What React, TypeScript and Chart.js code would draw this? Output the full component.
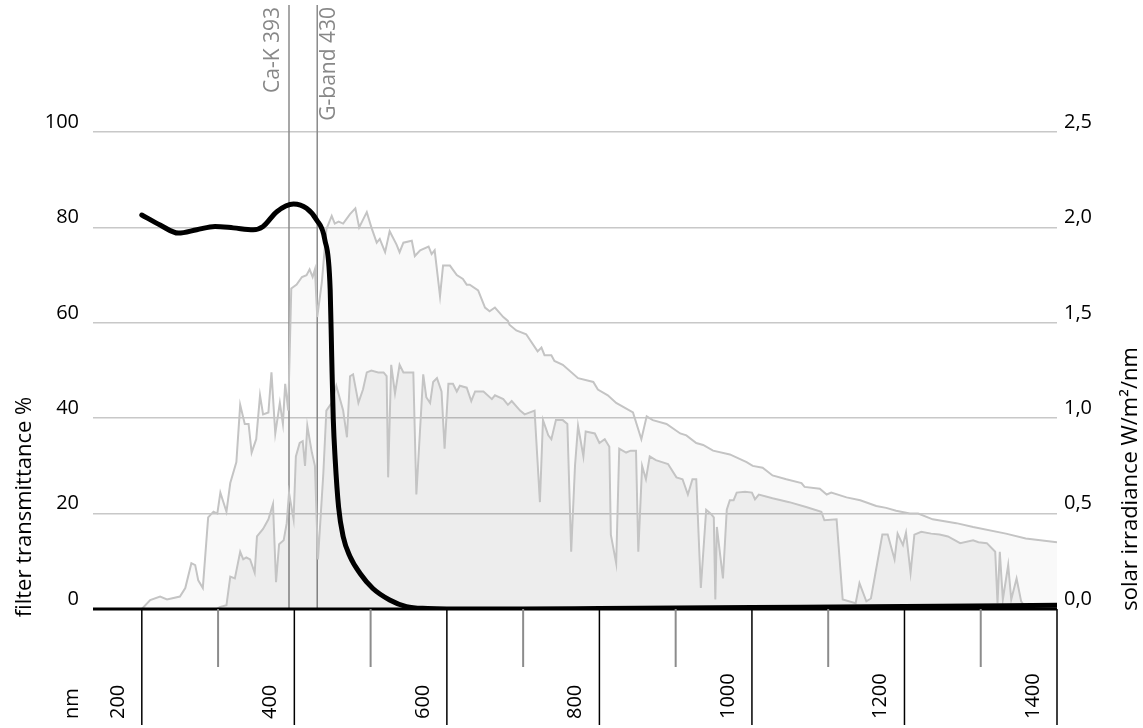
import React, { useEffect, useRef } from "react";
import { Chart, registerables } from "chart.js";

Chart.register(...registerables);

const FONT = '"Open Sans", "DejaVu Sans", sans-serif';

// ---- Filter transmittance (%), left axis ----
const filterNm = [200, 224, 248, 272, 296, 320, 346, 359, 377, 399, 416, 429, 440, 447, 449, 451, 453.5, 458, 464, 473, 486, 503, 525, 547, 575, 600, 700, 800, 1000, 1200, 1400];
const filterPct = [82.6, 80.5, 78.8, 79.5, 80.2, 79.9, 79.5, 80.2, 83.3, 84.9, 84.0, 81.6, 77.4, 66.9, 52.9, 40.0, 31.5, 21.4, 15.2, 11.0, 7.5, 4.3, 1.9, 0.5, 0.1, 0.0, 0.0, 0.1, 0.3, 0.5, 0.8];

// ---- Extraterrestrial solar irradiance (W/m²/nm), right axis ----
const etrNm = [200, 211, 224, 233, 250, 257, 265, 270, 274, 280, 287, 294, 299, 303, 311, 316, 324, 329, 335, 340, 344, 350, 355, 359, 366, 370, 375, 381, 385, 388, 392, 396, 403, 410, 416, 420, 424, 427, 430, 436, 442, 449, 453, 458, 464, 473, 480, 485, 495, 501, 508, 512, 519, 525, 534, 538, 543, 554, 558, 565, 576, 580, 584, 591, 595, 604, 613, 621, 626, 630, 641, 650, 656, 663, 674, 680, 682, 691, 704, 719, 724, 728, 737, 741, 752, 772, 792, 798, 811, 822, 844, 855, 862, 870, 888, 906, 914, 927, 936, 949, 971, 993, 1001, 1014, 1027, 1045, 1065, 1069, 1089, 1098, 1104, 1124, 1142, 1163, 1176, 1189, 1207, 1218, 1237, 1268, 1290, 1333, 1359, 1400];
const etrVal = [0.0, 0.047, 0.065, 0.05, 0.065, 0.11, 0.24, 0.23, 0.15, 0.11, 0.48, 0.51, 0.5, 0.61, 0.51, 0.66, 0.77, 1.07, 0.97, 0.97, 0.82, 0.89, 1.12, 1.02, 1.03, 1.24, 0.92, 1.08, 0.97, 1.18, 1.04, 1.68, 1.7, 1.74, 1.75, 1.78, 1.74, 1.78, 1.53, 1.71, 1.99, 2.06, 2.02, 2.03, 2.02, 2.07, 2.1, 2.0, 2.08, 2.0, 1.92, 1.94, 1.87, 1.98, 1.91, 1.87, 1.92, 1.93, 1.85, 1.88, 1.9, 1.86, 1.88, 1.64, 1.8, 1.8, 1.75, 1.73, 1.7, 1.7, 1.67, 1.58, 1.56, 1.58, 1.53, 1.51, 1.49, 1.46, 1.44, 1.35, 1.37, 1.33, 1.33, 1.3, 1.28, 1.21, 1.19, 1.15, 1.12, 1.08, 1.03, 0.89, 1.01, 0.99, 0.97, 0.92, 0.91, 0.87, 0.86, 0.83, 0.81, 0.77, 0.75, 0.74, 0.7, 0.68, 0.66, 0.64, 0.63, 0.6, 0.61, 0.585, 0.57, 0.54, 0.53, 0.515, 0.5, 0.5, 0.47, 0.45, 0.43, 0.395, 0.37, 0.35];

// ---- Ground-level solar irradiance (W/m²/nm), right axis ----
const groundNm = [298, 302, 311, 316, 322, 329, 333, 337, 342, 348, 351, 359, 366, 372, 376, 380, 386, 390, 393, 399, 402, 407, 411, 414, 417, 423, 427, 431, 438, 442, 449, 455, 464, 469, 473, 477, 484, 490, 495, 501, 510, 517, 521, 523, 527, 532, 538, 543, 556, 560, 569, 573, 578, 582, 587, 593, 597, 602, 608, 613, 617, 626, 632, 637, 648, 659, 663, 674, 680, 685, 696, 702, 715, 722, 726, 733, 737, 743, 752, 758, 763, 768, 772, 779, 782, 794, 800, 807, 813, 815, 822, 826, 835, 841, 848, 851, 856, 861, 866, 874, 890, 901, 909, 916, 922, 927, 933, 940, 946, 950, 952, 954, 962, 967, 971, 976, 980, 991, 1000, 1004, 1009, 1027, 1049, 1071, 1091, 1095, 1111, 1119, 1136, 1141, 1150, 1156, 1171, 1178, 1187, 1191, 1198, 1202, 1208, 1213, 1222, 1235, 1246, 1257, 1273, 1290, 1297, 1308, 1319, 1322, 1325, 1329, 1336, 1340, 1347, 1353, 1360];
const groundVal = [0.0, 0.01, 0.02, 0.17, 0.16, 0.3, 0.26, 0.27, 0.26, 0.19, 0.38, 0.42, 0.47, 0.55, 0.14, 0.34, 0.36, 0.45, 0.61, 0.47, 0.8, 0.87, 0.88, 0.75, 0.96, 0.82, 0.75, 0.26, 0.71, 1.04, 1.08, 1.17, 1.04, 0.9, 1.22, 1.23, 1.08, 1.15, 1.24, 1.25, 1.24, 1.24, 1.22, 0.69, 1.28, 1.13, 1.28, 1.24, 1.24, 0.6, 1.23, 1.11, 1.08, 1.19, 1.21, 1.14, 0.84, 1.18, 1.18, 1.14, 1.17, 1.16, 1.09, 1.14, 1.14, 1.1, 1.12, 1.1, 1.07, 1.09, 1.04, 1.02, 1.04, 0.56, 0.99, 0.91, 0.89, 0.99, 0.99, 0.97, 0.3, 0.75, 0.96, 0.8, 0.93, 0.92, 0.87, 0.89, 0.85, 0.39, 0.24, 0.84, 0.82, 0.83, 0.83, 0.3, 0.75, 0.68, 0.8, 0.78, 0.76, 0.69, 0.68, 0.6, 0.68, 0.68, 0.11, 0.52, 0.5, 0.48, 0.05, 0.43, 0.16, 0.52, 0.57, 0.57, 0.61, 0.615, 0.61, 0.575, 0.6, 0.58, 0.56, 0.535, 0.51, 0.465, 0.47, 0.05, 0.03, 0.135, 0.04, 0.055, 0.39, 0.39, 0.26, 0.395, 0.335, 0.4, 0.19, 0.39, 0.405, 0.395, 0.39, 0.38, 0.345, 0.36, 0.35, 0.345, 0.3, 0.03, 0.3, 0.05, 0.23, 0.05, 0.16, 0.04, 0.0];

// ---- Axes / labels ----
const xMin = 136;
const xMax = 1400;
const leftTicks = [0, 20, 40, 60, 80, 100];
const rightTicks = [0, 0.5, 1.0, 1.5, 2.0, 2.5];
const majorTickNm = [200, 400, 600, 800, 1000, 1200, 1400];
const minorTickNm = [300, 500, 700, 900, 1100, 1300];
const unitLabel = "nm";
const markerNm = [393, 430];
const markerLabels = ["Ca-K 393", "G-band 430"];
const leftTitle = "filter transmittance %";
const rightTitle = "solar irradiance W/m\u00B2/nm";

const toPoints = (xs: number[], ys: number[]) => xs.map((x, i) => ({ x, y: ys[i] }));

const overlayPlugin = {
  id: "overlay",
  beforeDatasetsDraw(chart: any) {
    const { ctx, chartArea, scales } = chart;
    const xs = scales.x;
    const y0 = chartArea.bottom;
    ctx.save();
    ctx.strokeStyle = "#8a8a8a";
    ctx.lineWidth = 1.5;
    markerNm.forEach((nm, i) => {
      const x = xs.getPixelForValue(nm);
      ctx.beginPath();
      ctx.moveTo(x, 5);
      ctx.lineTo(x, y0);
      ctx.stroke();
      ctx.save();
      ctx.translate(x + (i === 0 ? -16 : 12), 7);
      ctx.rotate(-Math.PI / 2);
      ctx.fillStyle = "#888888";
      ctx.font = `21px ${FONT}`;
      ctx.textAlign = "right";
      ctx.textBaseline = "middle";
      ctx.fillText(markerLabels[i], 0, 0);
      ctx.restore();
    });
    ctx.restore();
  },
  afterDraw(chart: any) {
    const { ctx, chartArea, scales } = chart;
    const xs = scales.x;
    const y0 = chartArea.bottom;
    ctx.save();
    ctx.strokeStyle = "#000";
    ctx.lineWidth = 3;
    ctx.beginPath();
    ctx.moveTo(chartArea.left, y0);
    ctx.lineTo(chartArea.right, y0);
    ctx.stroke();
    ctx.strokeStyle = "#8c8c8c";
    ctx.lineWidth = 2;
    minorTickNm.forEach((nm) => {
      const x = xs.getPixelForValue(nm);
      ctx.beginPath();
      ctx.moveTo(x, y0);
      ctx.lineTo(x, y0 + 58);
      ctx.stroke();
    });
    ctx.strokeStyle = "#000";
    ctx.lineWidth = 1.5;
    majorTickNm.forEach((nm) => {
      const x = xs.getPixelForValue(nm);
      ctx.beginPath();
      ctx.moveTo(x, y0);
      ctx.lineTo(x, y0 + 116);
      ctx.stroke();
    });
    ctx.fillStyle = "#000";
    ctx.font = `20px ${FONT}`;
    ctx.textAlign = "left";
    ctx.textBaseline = "middle";
    const drawRot = (t: string, x: number, y: number) => {
      ctx.save();
      ctx.translate(x, y);
      ctx.rotate(-Math.PI / 2);
      ctx.fillText(t, 0, 0);
      ctx.restore();
    };
    majorTickNm.forEach((nm) => {
      drawRot(String(nm), xs.getPixelForValue(nm) - 24, 719);
    });
    drawRot(unitLabel, 72, 719);
    ctx.font = `22px ${FONT}`;
    ctx.textAlign = "center";
    ctx.save();
    ctx.translate(25, 507);
    ctx.rotate(-Math.PI / 2);
    ctx.fillText(leftTitle, 0, 0);
    ctx.restore();
    ctx.save();
    ctx.translate(1131, 479);
    ctx.rotate(-Math.PI / 2);
    ctx.fillText(rightTitle, 0, 0);
    ctx.restore();
    ctx.restore();
  },
};

export default function App() {
  const ref = useRef<HTMLCanvasElement | null>(null);

  useEffect(() => {
    if (!ref.current) return;
    const chart = new Chart(ref.current, {
      type: "line",
      data: {
        datasets: [
          {
            label: "filter",
            data: toPoints(filterNm, filterPct),
            yAxisID: "y",
            borderColor: "#000",
            borderWidth: 5,
            pointRadius: 0,
            fill: false,
            cubicInterpolationMode: "monotone",
            borderCapStyle: "round",
            borderJoinStyle: "round",
            order: 0,
          },
          {
            label: "ground",
            data: toPoints(groundNm, groundVal),
            yAxisID: "y2",
            borderColor: "#c4c4c4",
            borderWidth: 2,
            backgroundColor: "rgba(0,0,0,0.05)",
            pointRadius: 0,
            fill: "origin",
            tension: 0,
            order: 1,
          },
          {
            label: "etr",
            data: toPoints(etrNm, etrVal),
            yAxisID: "y2",
            borderColor: "#c4c4c4",
            borderWidth: 2,
            backgroundColor: "rgba(0,0,0,0.025)",
            pointRadius: 0,
            fill: "origin",
            tension: 0,
            order: 2,
          },
        ] as any,
      },
      options: {
        responsive: false,
        animation: false,
        layout: { padding: { top: 132, bottom: 119, left: 0, right: 0 } },
        plugins: {
          legend: { display: false },
          tooltip: { enabled: false },
        },
        scales: {
          x: {
            type: "linear",
            min: xMin,
            max: xMax,
            display: false,
          },
          y: {
            position: "left",
            min: 0,
            max: 100,
            afterBuildTicks: (s: any) => {
              s.ticks = leftTicks.map((v) => ({ value: v }));
            },
            afterFit: (s: any) => {
              s.width = 93;
            },
            ticks: {
              color: "#000",
              font: { family: FONT, size: 20 },
              padding: 14,
              labelOffset: -10,
            },
            grid: { color: "#c8c8c8", lineWidth: 1.5, drawTicks: false },
            border: { display: false },
          },
          y2: {
            position: "right",
            min: 0,
            max: 2.5,
            afterBuildTicks: (s: any) => {
              s.ticks = rightTicks.map((v) => ({ value: v }));
            },
            afterFit: (s: any) => {
              s.width = 86;
            },
            ticks: {
              color: "#000",
              font: { family: FONT, size: 20 },
              padding: 7,
              labelOffset: -10,
              callback: (v: any) => Number(v).toFixed(1).replace(".", ","),
            },
            grid: { drawOnChartArea: false, drawTicks: false },
            border: { display: false },
          },
        },
      } as any,
      plugins: [overlayPlugin],
    });
    return () => chart.destroy();
  }, []);

  return (
    <div style={{ position: "absolute", left: 0, top: 0, width: 1143, height: 728, background: "#fff" }}>
      <canvas ref={ref} width={1143} height={728} style={{ display: "block", width: 1143, height: 728 }} />
    </div>
  );
}
